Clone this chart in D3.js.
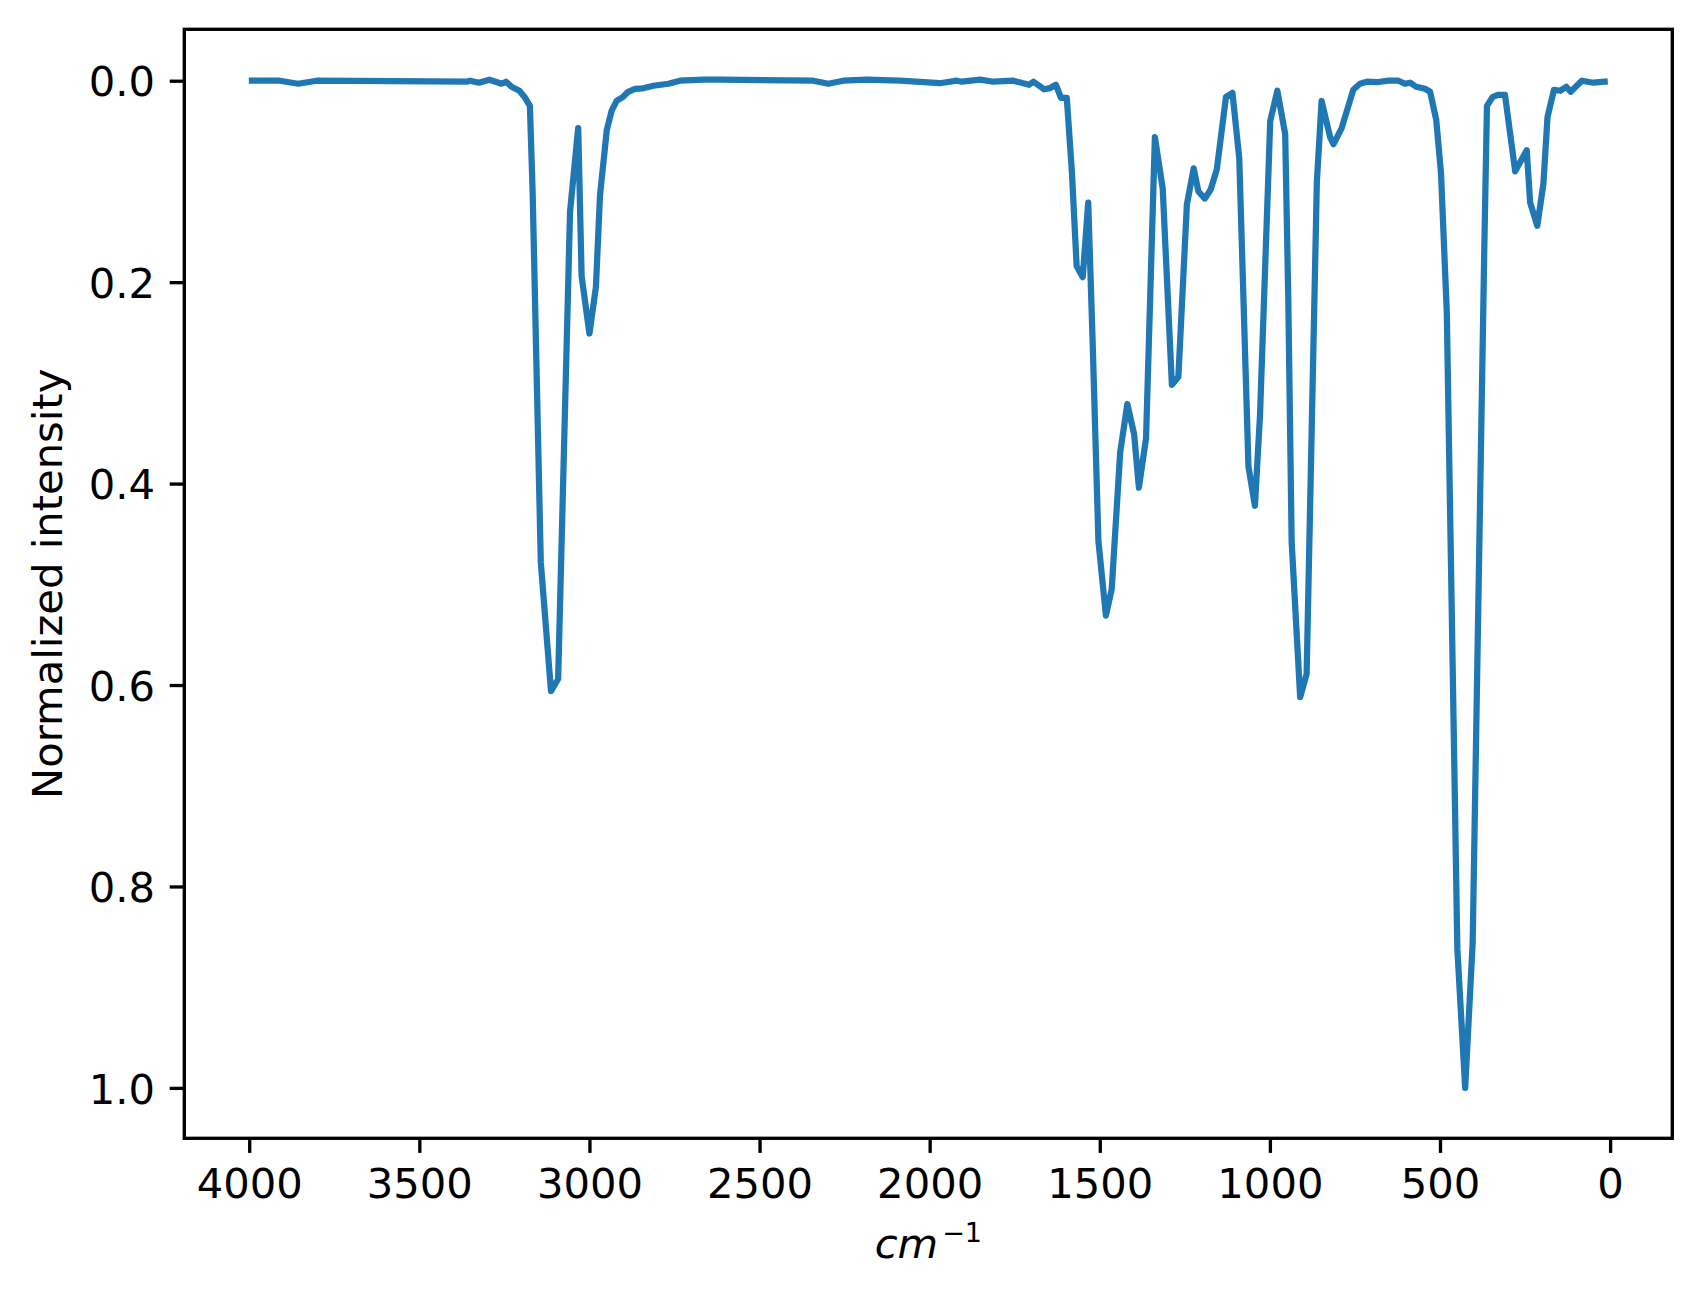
<!DOCTYPE html>
<html>
<head>
<meta charset="utf-8">
<script src="https://cdn.jsdelivr.net/npm/d3@7"></script>
<style>
  body { margin: 0; background: #fff; }
  text { font-family: "DejaVu Sans", sans-serif; fill: #000; }
</style>
</head>
<body>
<div id="chart"></div>
<script>
// wavenumbers (cm-1) and normalized intensity
var wavenumber = [3992, 3910, 3856, 3802, 3361, 3351, 3325, 3294, 3258, 3245, 3229, 3206, 3189, 3175, 3167,
  3143, 3113, 3092, 3057, 3033, 3023, 3000, 2981, 2969, 2949, 2935, 2920, 2901, 2886, 2866, 2842, 2812,
  2768, 2734, 2665, 2616, 2342, 2298, 2254, 2185, 2087, 1970, 1920, 1905, 1852, 1813, 1754, 1708, 1695,
  1678, 1664, 1646, 1629, 1614, 1597, 1582, 1568, 1550, 1534, 1521, 1504, 1482, 1465, 1440, 1419, 1399,
  1385, 1364, 1338, 1315, 1288, 1269, 1244, 1224, 1210, 1191, 1174, 1156, 1129, 1110, 1090, 1063, 1044,
  1029, 999, 978, 955, 946, 936, 911, 892, 862, 848, 823, 813, 789, 755, 735, 715, 686, 652, 622, 603,
  588, 570, 544, 529, 511, 497, 480, 449, 426, 404, 370, 362, 345, 328, 309, 279, 245, 235, 214, 196,
  184, 165, 147, 129, 116, 83, 49, 16];
var intensity = [0.000, 0.000, 0.003, 0.000, 0.001, 0.000, 0.002, -0.001, 0.003, 0.001, 0.006, 0.010, 0.017, 0.025, 0.110,
  0.478, 0.606, 0.594, 0.130, 0.047, 0.194, 0.251, 0.205, 0.114, 0.049, 0.030, 0.020, 0.016, 0.011, 0.008, 0.0075, 0.005,
  0.003, 0.000, -0.001, -0.001, 0.000, 0.003, 0.000, -0.001, 0.000, 0.0025, 0.000, 0.001, -0.001, 0.001, 0.000, 0.004, 0.001,
  0.005, 0.0085, 0.0073, 0.004, 0.017, 0.017, 0.090, 0.184, 0.195, 0.121, 0.259, 0.457, 0.531, 0.505, 0.369, 0.321, 0.351,
  0.404, 0.355, 0.056, 0.107, 0.302, 0.294, 0.123, 0.087, 0.110, 0.117, 0.108, 0.088, 0.016, 0.012, 0.077, 0.383, 0.422,
  0.332, 0.040, 0.010, 0.053, 0.215, 0.458, 0.612, 0.589, 0.101, 0.020, 0.056, 0.063, 0.047, 0.009, 0.003, 0.001, 0.0015, 0.000, 0.000, 0.003,
  0.002, 0.006, 0.008, 0.011, 0.039, 0.092, 0.230, 0.862, 1.000, 0.856, 0.171, 0.025, 0.016, 0.014, 0.014, 0.090, 0.069, 0.121, 0.144, 0.102,
  0.036, 0.009, 0.010, 0.006, 0.011, 0.000, 0.002, 0.001];
var xTicks = [4000, 3500, 3000, 2500, 2000, 1500, 1000, 500, 0];
var yTicks = [0.0, 0.2, 0.4, 0.6, 0.8, 1.0];

function drawChart() {
  var width = 1702, height = 1298;
  var axL = 184.3, axR = 1672.3, axT = 29.3, axB = 1138.3;
  var fs = 41.7, tickLen = 14.6, pad = 14.6, lw = 3.33;

  var data = wavenumber.map(function (w, i) { return { x: w, y: intensity[i] }; });

  // matplotlib-like 5% margins
  var xExt = d3.extent(wavenumber), xm = (xExt[1] - xExt[0]) * 0.05;
  var yExt = d3.extent(intensity), ym = (yExt[1] - yExt[0]) * 0.05;

  var x = d3.scaleLinear().domain([xExt[1] + xm, xExt[0] - xm]).range([axL, axR]);
  var y = d3.scaleLinear().domain([yExt[0] - ym, yExt[1] + ym]).range([axT, axB]);

  var svg = d3.select("#chart").append("svg")
    .attr("width", width)
    .attr("height", height);

  svg.append("rect").attr("width", width).attr("height", height).attr("fill", "#fff");

  var line = d3.line()
    .x(function (d) { return x(d.x); })
    .y(function (d) { return y(d.y); });

  svg.append("defs").append("clipPath").attr("id", "clip")
    .append("rect").attr("x", axL).attr("y", axT).attr("width", axR - axL).attr("height", axB - axT);

  svg.append("path")
    .datum(data)
    .attr("clip-path", "url(#clip)")
    .attr("fill", "none")
    .attr("stroke", "#1f77b4")
    .attr("stroke-width", 6.25)
    .attr("stroke-linejoin", "round")
    .attr("stroke-linecap", "square")
    .attr("d", line);

  // x axis
  var xAxis = svg.append("g")
    .attr("transform", "translate(0," + axB + ")")
    .call(d3.axisBottom(x).tickValues(xTicks).tickSize(tickLen).tickFormat(d3.format("d")));
  xAxis.select(".domain").remove();
  xAxis.selectAll(".tick line").attr("stroke", "#000").attr("stroke-width", lw);
  xAxis.selectAll(".tick text")
    .attr("y", tickLen + pad + fs * 0.729)
    .attr("dy", null)
    .attr("font-size", fs)
    .attr("font-family", "DejaVu Sans");

  // y axis
  var yAxis = svg.append("g")
    .attr("transform", "translate(" + axL + ",0)")
    .call(d3.axisLeft(y).tickValues(yTicks).tickSize(tickLen).tickFormat(d3.format(".1f")));
  yAxis.select(".domain").remove();
  yAxis.selectAll(".tick line").attr("stroke", "#000").attr("stroke-width", lw);
  yAxis.selectAll(".tick text")
    .attr("x", -(tickLen + pad))
    .attr("dy", fs * 0.729 / 2)
    .attr("font-size", fs)
    .attr("font-family", "DejaVu Sans");

  // spines
  svg.append("rect")
    .attr("x", axL).attr("y", axT)
    .attr("width", axR - axL).attr("height", axB - axT)
    .attr("fill", "none")
    .attr("stroke", "#000")
    .attr("stroke-width", lw);

  // labels
  svg.append("text")
    .attr("transform", "translate(62," + (axT + axB) / 2 + ") rotate(-90)")
    .attr("text-anchor", "middle")
    .attr("font-size", fs)
    .text("Normalized intensity");

  var xl = svg.append("text")
    .attr("x", (axL + axR) / 2)
    .attr("y", 1258)
    .attr("text-anchor", "middle")
    .attr("font-size", fs);
  xl.append("tspan").attr("font-style", "italic").text("cm");
  xl.append("tspan").attr("font-size", 27).attr("dx", 4).attr("dy", -16).text("\u22121");
}

drawChart();
</script>
</body>
</html>
